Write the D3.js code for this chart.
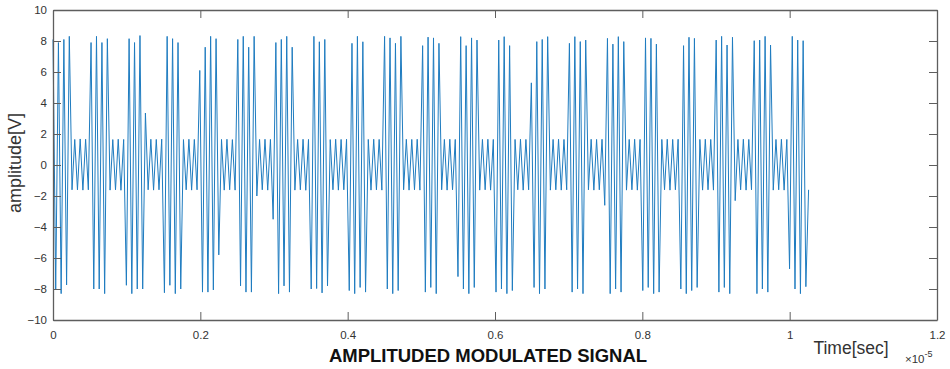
<!DOCTYPE html>
<html><head><meta charset="utf-8">
<script src="https://cdn.jsdelivr.net/npm/d3@7"></script>
<style>body{margin:0;background:#fff;} svg{display:block;}</style>
</head><body>
<svg id="chart" width="950" height="369"></svg>
<script>
// x tick values (seconds) and labels (shown with a ×10^-5 exponent)
const xTickValues = [0, 0.2e-5, 0.4e-5, 0.6e-5, 0.8e-5, 1.0e-5, 1.2e-5];
const xTickLabels = ["0", "0.2", "0.4", "0.6", "0.8", "1", "1.2"];
const yTickValues = [-10, -8, -6, -4, -2, 0, 2, 4, 6, 8, 10];
const titleText = "AMPLITUDED MODULATED SIGNAL";
const xLabelText = "Time[sec]";
const yLabelText = "amplitude[V]";
// spacing between successive extreme points (half carrier period), seconds
const sampleStep = 3.6895e-8;
// signal extreme values (alternating crest / trough)
const signal = [
  8.1,-8.06,7.9,-8.3,8.1,-7.74,8.3,
  -1.6,1.65,-1.6,1.68,-1.62,1.66,-1.6,
  7.9,-8.0,8.3,-8.0,7.9,-8.3,8.15,
  -1.62,1.64,-1.6,1.66,-1.63,1.65,-7.76,
  8.15,-8.3,7.9,-8.0,8.35,-8.0,3.35,
  -1.6,1.66,-1.62,1.65,-1.6,1.67,
  -8.24,8.3,-7.76,8.15,-8.3,7.9,-8.0,
  1.64,-1.6,1.66,-1.62,1.65,-1.6,6.1,
  -8.2,7.6,-8.2,8.3,-8.06,8.15,-5.8,
  1.65,-1.62,1.66,-1.6,1.64,-1.62,
  8.1,-7.8,8.3,-8.2,7.6,-8.2,8.3,-2.0,
  1.65,-1.6,1.66,-1.62,1.65,-3.5,
  7.9,-8.3,8.1,-7.8,8.3,-8.2,7.6,
  -1.62,1.65,-1.6,1.66,-1.63,1.65,
  -8.0,8.3,-7.97,7.95,-8.25,8.1,-7.8,
  1.64,-1.6,1.66,-1.62,1.65,-1.6,1.66,
  -8.1,7.85,-8.3,8.3,-7.9,7.95,-8.2,
  1.65,-1.62,1.66,-1.6,1.65,-1.62,
  8.3,-8.0,8.2,-8.3,7.85,-8.1,8.3,
  -1.6,1.66,-1.62,1.65,-1.6,1.66,-1.62,
  7.7,-8.2,8.25,-7.9,8.2,-8.3,7.85,
  -1.6,1.65,-1.62,1.66,-1.6,1.65,-7.2,
  8.28,-8.0,7.7,-8.3,8.2,-7.9,8.06,
  -1.62,1.65,-1.6,1.66,-1.62,1.65,
  -8.2,8.06,-8.0,8.28,-8.3,7.7,-8.1,
  1.65,-1.6,1.66,-1.62,1.65,-1.6,5.3,
  -7.9,7.96,-8.3,8.1,-8.0,8.28,
  -1.62,1.65,-1.6,1.66,-1.62,1.65,-1.6,
  7.85,-8.2,8.28,-8.0,7.96,-8.3,8.06,
  -1.6,1.66,-1.62,1.65,-1.6,1.66,-2.6,
  8.17,-8.3,7.8,-8.0,8.28,-8.2,7.96,
  -1.62,1.65,-1.6,1.66,-1.62,1.65,
  -8.1,8.2,-7.9,8.17,-8.3,7.8,-8.2,
  1.65,-1.6,1.66,-1.62,1.65,-1.6,1.66,
  -8.0,7.7,-8.3,8.24,-8.1,8.17,-7.9,
  1.65,-1.62,1.66,-1.6,1.65,-1.62,
  8.06,-8.2,8.3,-7.9,7.74,-8.3,8.24,-2.3,
  1.65,-1.6,1.66,-1.62,1.65,-1.6,
  8.02,-8.3,8.06,-8.0,8.3,-8.2,7.74,
  -1.62,1.65,-1.6,1.66,-1.62,1.65,-6.7,
  8.3,-8.0,8.06,-8.3,8.02,-7.85,-1.6
];

const svg = d3.select("#chart");
const mLeft = 53, mRight = 937, mTop = 10, mBottom = 320;
const x = d3.scaleLinear().domain([0, 1.2e-5]).range([mLeft, mRight]);
const y = d3.scaleLinear().domain([-10, 10]).range([mBottom, mTop]);
const axisColor = "#5e5e5e";
const textColor = "#333";
const tickLen = 8;
const fontFam = "'Liberation Sans', Arial, sans-serif";

// signal line
const line = d3.line().x((d, i) => x(i * sampleStep)).y(d => y(d));
svg.append("path").datum(signal)
  .attr("d", line).attr("fill", "none")
  .attr("stroke", "#1f7cc0").attr("stroke-width", 1);

// axes with inward ticks
const fmtX = (d) => xTickLabels[xTickValues.indexOf(d)];
const bottomAxis = d3.axisBottom(x).tickValues(xTickValues).tickFormat(fmtX).tickSizeInner(-tickLen).tickSizeOuter(0).tickPadding(11);
const topAxis = d3.axisTop(x).tickValues(xTickValues).tickFormat("").tickSizeInner(-tickLen).tickSizeOuter(0);
const leftAxis = d3.axisLeft(y).tickValues(yTickValues).tickFormat(d3.format("d")).tickSizeInner(-tickLen).tickSizeOuter(0).tickPadding(6);
const rightAxis = d3.axisRight(y).tickValues(yTickValues).tickFormat("").tickSizeInner(-tickLen).tickSizeOuter(0);

function style(g) {
  g.select(".domain").attr("stroke", axisColor).attr("stroke-width", 1.3);
  g.selectAll(".tick line").attr("stroke", axisColor).attr("stroke-width", 1);
  g.selectAll(".tick text").attr("fill", textColor).style("font-family", fontFam).style("font-size", "11.5px");
}
svg.append("g").attr("transform", `translate(0,${mBottom})`).call(bottomAxis).call(style);
svg.append("g").attr("transform", `translate(0,${mTop})`).call(topAxis).call(style);
svg.append("g").attr("transform", `translate(${mLeft},0)`).call(leftAxis).call(style);
svg.append("g").attr("transform", `translate(${mRight},0)`).call(rightAxis).call(style);

// title
svg.append("text").attr("x", 488).attr("y", 362).attr("text-anchor", "middle")
  .style("font-family", fontFam).style("font-weight", "bold")
  .style("font-size", "18.5px").attr("fill", "#111").text(titleText);
// x label
svg.append("text").attr("x", 851).attr("y", 354).attr("text-anchor", "middle")
  .style("font-family", fontFam)
  .style("font-size", "17.5px").attr("fill", textColor).text(xLabelText);
// exponent
const ex = svg.append("text").attr("x", 905).attr("y", 363)
  .style("font-family", fontFam).style("font-size", "11.5px").attr("fill", textColor);
ex.append("tspan").text("\u00d710");
ex.append("tspan").attr("dy", -6).style("font-size", "9px").text("-5");
// y label
svg.append("text").attr("transform", "translate(21,163) rotate(-90)").attr("text-anchor", "middle")
  .style("font-family", fontFam)
  .style("font-size", "18px").attr("fill", textColor).text(yLabelText);
</script>
</body></html>
